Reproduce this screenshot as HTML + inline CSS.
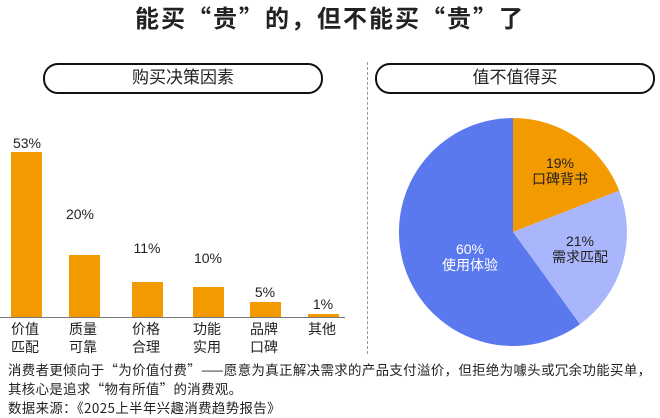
<!DOCTYPE html>
<html><head><meta charset="utf-8"><style>
body{margin:0;width:660px;height:418px;background:#fff;overflow:hidden;position:relative;font-family:"Liberation Sans","Noto Sans CJK SC",sans-serif;color:#222}
.a{position:absolute;white-space:nowrap}
.box{position:absolute;border:2px solid #111;border-radius:15px;box-sizing:border-box;text-align:center;font-size:17px;line-height:26px}
.bar{position:absolute;background:#f39a00;width:31px}
.pct{position:absolute;width:60px;text-align:center;font-size:14px}
.cat{position:absolute;font-size:14px;line-height:18px}
.t{font-size:13.4px;font-family:"Noto Sans CJK SC",sans-serif;line-height:16px}
</style></head><body>
<div class="a" style="left:0;width:660px;text-align:center;top:0px;font-size:24px;font-weight:bold;letter-spacing:2px;font-family:'Noto Sans CJK SC',sans-serif;line-height:34px">能买“贵”的，但不能买“贵”了</div>
<div class="box" style="left:43px;top:63px;width:280px;height:31px">购买决策因素</div>
<div class="box" style="left:375px;top:63px;width:280px;height:31px">值不值得买</div>
<div style="position:absolute;left:367px;top:62px;height:292px;border-left:1px dashed #999"></div>

<div class="bar" style="left:11px;top:152px;height:165px"></div>
<div class="bar" style="left:69px;top:255px;height:62px"></div>
<div class="bar" style="left:132px;top:282px;height:35px"></div>
<div class="bar" style="left:193px;top:287px;height:30px"></div>
<div class="bar" style="left:250px;top:302px;height:15px"></div>
<div class="bar" style="left:308px;top:314px;height:3px"></div>
<div style="position:absolute;left:0;top:317px;width:345px;border-top:1px solid #777"></div>
<div class="pct" style="left:-3px;top:135px">53%</div>
<div class="pct" style="left:50px;top:206px">20%</div>
<div class="pct" style="left:117px;top:240px">11%</div>
<div class="pct" style="left:178px;top:250px">10%</div>
<div class="pct" style="left:235px;top:284px">5%</div>
<div class="pct" style="left:293px;top:296px">1%</div>
<div class="cat" style="left:11px;top:320px">价值<br>匹配</div>
<div class="cat" style="left:69px;top:320px">质量<br>可靠</div>
<div class="cat" style="left:132px;top:320px">价格<br>合理</div>
<div class="cat" style="left:193px;top:320px">功能<br>实用</div>
<div class="cat" style="left:250px;top:320px">品牌<br>口碑</div>
<div class="cat" style="left:308px;top:320px">其他</div>

<svg style="position:absolute;left:0;top:0" width="660" height="418">
<path d="M513,232 L513,118 A114,114 0 0 1 619.2,190.6 Z" fill="#f39a00"/>
<path d="M513,232 L619.2,190.6 A114,114 0 0 1 580,324.2 Z" fill="#a9b6fb"/>
<path d="M513,232 L580,324.2 A114,114 0 1 1 513,118 Z" fill="#5b79ef"/>
<g font-size="14" text-anchor="middle" font-family="Liberation Sans,Noto Sans CJK SC,sans-serif">
<text x="560" y="168" fill="#222">19%</text><text x="560" y="184" fill="#222">口碑背书</text>
<text x="580" y="246" fill="#222">21%</text><text x="580" y="262" fill="#222">需求匹配</text>
<text x="470" y="254" fill="#fff">60%</text><text x="470" y="270" fill="#fff">使用体验</text>
</g></svg>

<div class="a t" style="left:8px;top:361px;letter-spacing:0.4px">消费者更倾向于“为价值付费”——愿意为真正解决需求的产品支付溢价，但拒绝为噱头或冗余功能买单，</div>
<div class="a t" style="left:8px;top:380px;letter-spacing:0.4px">其核心是追求“物有所值”的消费观。</div>
<div class="a t" style="left:8px;top:399px;letter-spacing:0.4px">数据来源：《2025上半年兴趣消费趋势报告》</div>
</body></html>
